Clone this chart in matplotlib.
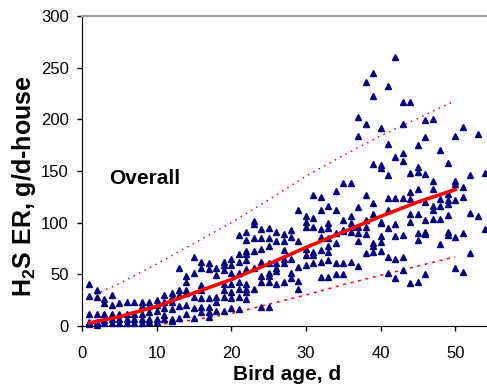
import matplotlib
matplotlib.use("Agg")
import matplotlib.pyplot as plt
import numpy as np

plt.rcParams["font.family"] = ["Liberation Sans", "DejaVu Sans"]
plt.rcParams["mathtext.fontset"] = "custom"
plt.rcParams["mathtext.rm"] = "Liberation Sans:bold"
plt.rcParams["mathtext.default"] = "rm"

# observed H2S emission rate (g/d-house) per bird age (d)
ages = list(range(1, 55))
er_by_age = [
    [41, 29, 12, 4, 2],
    [35, 28, 12, 4, 1],
    [26, 22, 12, 6, 3],
    [30, 20, 12, 7, 3],
    [22, 12, 7, 3],
    [23, 12, 7, 3],
    [23, 12, 7, 3],
    [23, 19, 12, 7, 3],
    [23, 19, 14, 7, 4],
    [25, 20, 15, 7, 4],
    [30, 23, 17, 11, 7],
    [32, 28, 23, 16, 7, 5],
    [56, 35, 30, 19, 8],
    [48, 43, 35, 32, 20, 12],
    [67, 51, 28, 17, 8],
    [62, 56, 40, 35, 27, 18, 14],
    [61, 55, 27, 18, 14, 9],
    [56, 49, 28, 23, 15],
    [62, 59, 54, 41, 35, 28, 15],
    [65, 59, 51, 41, 33, 27, 17],
    [88, 70, 62, 51, 43, 36, 28, 16],
    [91, 83, 73, 70, 64, 55, 41, 36, 33, 26],
    [102, 99, 85, 73, 56, 36],
    [94, 85, 75, 62, 48, 43, 18],
    [95, 85, 77, 61, 51, 48, 43, 18],
    [91, 82, 61, 56, 53, 41],
    [89, 82, 74, 65, 61, 43],
    [93, 86, 65, 51, 46],
    [112, 82, 57, 44, 36],
    [106, 101, 96, 75, 69, 59],
    [127, 105, 96, 72, 69, 61],
    [125, 112, 94, 86, 74, 62, 47],
    [116, 100, 95, 85, 77, 72, 64, 47],
    [131, 112, 90, 80, 61, 50],
    [138, 103, 93, 92, 61, 50],
    [138, 106, 100, 96, 91, 62],
    [202, 184, 115, 96, 90, 82, 58],
    [236, 195, 127, 103, 96, 89, 71],
    [245, 223, 157, 119, 108, 80, 77, 72],
    [192, 156, 153, 101, 100, 87, 81, 73],
    [232, 176, 146, 124, 112, 95, 67, 51],
    [260, 164, 124, 99, 87, 65, 46],
    [217, 195, 167, 160, 124, 88, 67, 54],
    [217, 148, 130, 123, 108, 101, 42],
    [175, 154, 149, 133, 108, 90, 83, 43],
    [199, 183, 147, 120, 103, 91, 89, 50],
    [200, 140, 133, 116, 112, 104],
    [170, 123, 116, 104, 79],
    [158, 128, 122, 118, 107, 91, 88],
    [184, 140, 137, 122, 86, 56],
    [193, 135, 125, 90, 52],
    [146, 109, 71],
    [186, 106],
    [148, 94],
]

# fitted curve and prediction band
fit_age = [1, 5, 10, 15, 20, 25, 30, 35, 40, 45, 50]
fit_er = [3, 9, 19, 32, 45, 60, 76, 91, 106, 120, 132]
upper_age = [1, 5, 10, 15, 20, 25, 30, 35, 40, 45, 50]
upper_er = [28, 41, 60, 80, 100, 122, 145, 165, 184, 201, 218]
lower_age = [9, 12, 15, 20, 25, 30, 35, 40, 45, 50]
lower_er = [0, 3, 6, 12, 21, 30, 40, 49, 58, 67]


def main():
    x = np.concatenate([[a] * len(v) for a, v in zip(ages, er_by_age)])
    y = np.concatenate(er_by_age)

    fig = plt.figure(figsize=(4.87, 3.88), dpi=100)
    ax = fig.add_axes([82 / 487, 62 / 388, 406 / 487, 310 / 388])

    ax.plot(x, y, ls="none", marker="^", ms=4.5, color="#000080", mec="#000080", clip_on=False, zorder=3)
    ax.plot(upper_age, upper_er, color="red", lw=1.1, ls=(0, (1, 3)), zorder=2)
    ax.plot(lower_age, lower_er, color="red", lw=1.1, ls=(0, (2, 3)), zorder=2)
    ax.plot(fit_age, fit_er, color="red", lw=2.6, zorder=4)

    ax.text(3.6, 143, "Overall", fontsize=15, fontweight="bold", va="center", ha="left")

    ax.set_xlim(0, 54.4)
    ax.set_ylim(0, 300)
    ax.set_xticks(range(0, 51, 10))
    ax.set_yticks(range(0, 301, 50))
    ax.tick_params(axis="both", direction="out", length=3.6, width=1, labelsize=12)
    ax.tick_params(axis="x", pad=11)
    ax.tick_params(axis="y", pad=6)

    ax.spines["right"].set_visible(False)
    ax.spines["top"].set_color("#a0a0a0")
    ax.spines["top"].set_linewidth(1.5)

    ax.set_xlabel("Bird age, d", fontsize=15, fontweight="bold", va="center")
    ax.xaxis.set_label_coords(0.504, -0.155)
    ax.set_ylabel(r"H$_2$S ER, g/d-house", fontsize=18, fontweight="bold", va="center")
    ax.yaxis.set_label_coords(-0.143, 0.452)

    fig.savefig("out.png", dpi=100)
    plt.close(fig)


if __name__ == "__main__":
    main()
